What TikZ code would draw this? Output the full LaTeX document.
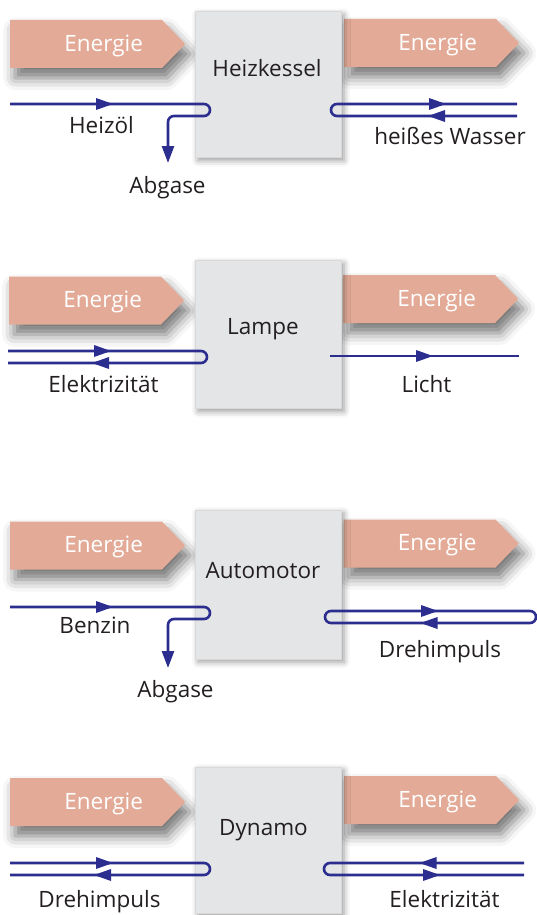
\documentclass[tikz,border=0pt]{standalone}
\usepackage{fontspec}
\setmainfont{Open Sans}
\usetikzlibrary{shapes.symbols,shadows.blur,arrows.meta}
\definecolor{energyfill}{HTML}{E3AB97}
\definecolor{boxfill}{HTML}{E4E5E7}
\definecolor{flowblue}{HTML}{2B2E8F}
\definecolor{ink}{HTML}{231F20}

\begin{document}
\begin{tikzpicture}[x=1pt,y=-1pt,
  box/.style={draw=black!15,fill=boxfill,minimum width=146pt,minimum height=146pt,inner sep=0pt,
    blur shadow={shadow xshift=3pt,shadow yshift=-3pt,shadow blur radius=6pt,shadow opacity=40}},
  energy/.style={signal,signal to=east,signal pointer angle=92,fill=energyfill,
    minimum width=175pt,minimum height=48pt,inner sep=0pt,anchor=west,
    blur shadow={shadow xshift=5pt,shadow yshift=-10pt,shadow blur radius=12pt,shadow opacity=55},
    label={[en]center:Energie}},
  en/.style={text=white,xshift=17.5pt,yshift=-1.5pt,font=\fontsize{22.5}{27}\selectfont},
  lab/.style={text=ink,font=\fontsize{22.5}{27}\selectfont,anchor=base,inner sep=0pt},
  flow/.style={draw=flowblue,line width=2.6pt,rounded corners=6pt},
  tip/.style={-{Triangle[length=17pt,width=12pt]}}]
  \useasboundingbox (0,0) rectangle (537,915);
  % energy in and out
  \foreach \name/\xx/\yy in {enK1/10/44,enK2/344/43,enL1/9/300.5,enL2/343/299,
      enM1/10/545.5,enM2/343.5/543.5,enD1/10/802,enD2/344/800}
    \node[energy] (\name) at (\xx,\yy) {};
  % four machines, top to bottom
  \node[box] (kessel) at (268,84.5) {};
  \node[box,minimum height=148pt] (lampe) at (268,334.5) {};
  \node[box,minimum height=149pt] (motor) at (268,584.5) {};
  \node[box] (dynamo) at (268,840) {};
  \node[lab] (kesselT) at (267,77) {Heizkessel};
  \node[lab] (lampeT) at (263,334) {Lampe};
  \node[lab] (motorT) at (263,578) {Automotor};
  \node[lab] (dynamoT) at (263.5,835.5) {Dynamo};
  % carriers
  \coordinate (oel) at (10,104);   \coordinate (oelU) at (210,116); \coordinate (abg1) at (168,163);
  \coordinate (hwA) at (517,104);  \coordinate (hwU) at (331,116);  \coordinate (hwB) at (517,116);
  \coordinate (elA) at (8,351);    \coordinate (elU) at (207,363);  \coordinate (elB) at (8,363);
  \coordinate (liA) at (330,356);  \coordinate (liB) at (519,356);
  \coordinate (bz) at (10,607);    \coordinate (bzU) at (210,619);  \coordinate (abg2) at (168,668);
  \coordinate (dhA) at (325,611);  \coordinate (dhB) at (536,623);
  \coordinate (dlA) at (10,863);   \coordinate (dlU) at (210,875);  \coordinate (dlB) at (10,875);
  \coordinate (drA) at (524,863);  \coordinate (drU) at (324,875);  \coordinate (drB) at (524,875);
  \draw[flow,tip] (oel) -| (oelU) -| (abg1);
  \draw[flow] (hwA) -| (hwU) -- (hwB);
  \draw[flow] (elA) -| (elU) -- (elB);
  \draw[flow] (liA) -- (liB);
  \draw[flow,tip] (bz) -| (bzU) -| (abg2);
  \draw[flow] (dhA) rectangle (dhB);
  \draw[flow] (dlA) -| (dlU) -- (dlB);
  \draw[flow] (drA) -| (drU) -- (drB);
  % arrow heads on the lines (1 = to the right, -1 = to the left)
  \foreach \xx/\yy/\d in {113/104/1,446/104/1,428/116/-1,111/351/1,92/363/-1,433/356/1,
      113/607/1,438/611/1,420.5/623/-1,113/863/1,94/875/-1,419.5/863/-1,440/875/1}
    \fill[flowblue] (\xx,\yy) -- ++(-17*\d,-6) -- ++(0,12) -- cycle;
  % labels
  \node[lab] (oelT) at (101.5,133) {Heizöl};
  \node[lab] (abgT1) at (167.5,193) {Abgase};
  \node[lab] (hwT) at (450,145) {heißes Wasser};
  \node[lab] (elT) at (103.5,392) {Elektrizität};
  \node[lab] (liT) at (426.5,392) {Licht};
  \node[lab] (bzT) at (95,633.5) {Benzin};
  \node[lab] (abgT2) at (175.5,697) {Abgase};
  \node[lab] (dhT) at (440,657.5) {Drehimpuls};
  \node[lab] (dlT) at (99.5,907) {Drehimpuls};
  \node[lab] (drT) at (444.5,907) {Elektrizität};
\end{tikzpicture}
\end{document}
